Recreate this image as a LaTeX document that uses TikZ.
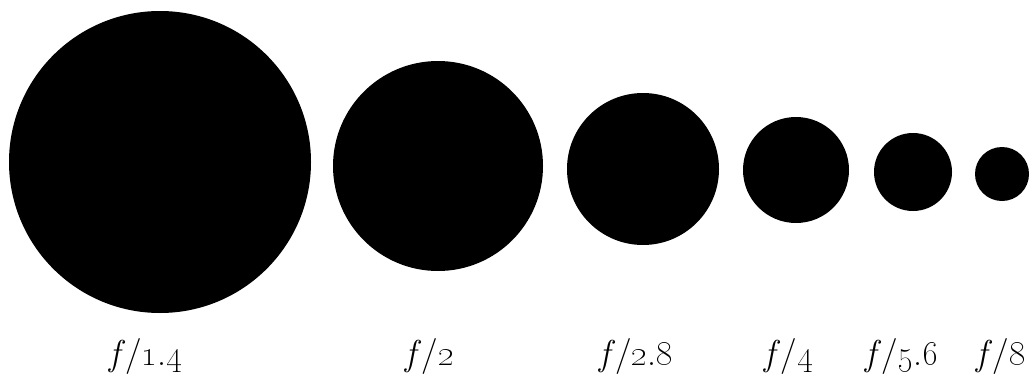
\documentclass[tikz,border=0pt]{standalone}
\begin{document}
\begin{tikzpicture}[x=1pt,y=-1pt,
  disc/.style={circle,fill=black,draw=none,inner sep=0pt,minimum size=#1},
  lab/.style={anchor=base,inner sep=0pt,font=\fontsize{36}{42}\selectfont}]
\useasboundingbox[fill=white] (0,0) rectangle (1033,386);
\node[disc=302pt] (c1) at (160,162) {};
\node[disc=210pt] (c2) at (438,166) {};
\node[disc=152pt] (c3) at (643,169) {};
\node[disc=106pt] (c4) at (796,170) {};
\node[disc=78pt]  (c5) at (913,172) {};
\node[disc=54pt]  (c6) at (1002,174) {};
\node[lab] (l1) at (146,365) {\textit{f}/\oldstylenums{1}.\oldstylenums{4}};
\node[lab] (l2) at (430,365) {\textit{f}/\oldstylenums{2}};
\node[lab] (l3) at (636,365) {\textit{f}/\oldstylenums{2}.\oldstylenums{8}};
\node[lab] (l4) at (789,365) {\textit{f}/\oldstylenums{4}};
\node[lab] (l5) at (902,365) {\textit{f}/\oldstylenums{5}.\oldstylenums{6}};
\node[lab] (l6) at (1001,365) {\textit{f}/\oldstylenums{8}};
\end{tikzpicture}
\end{document}
